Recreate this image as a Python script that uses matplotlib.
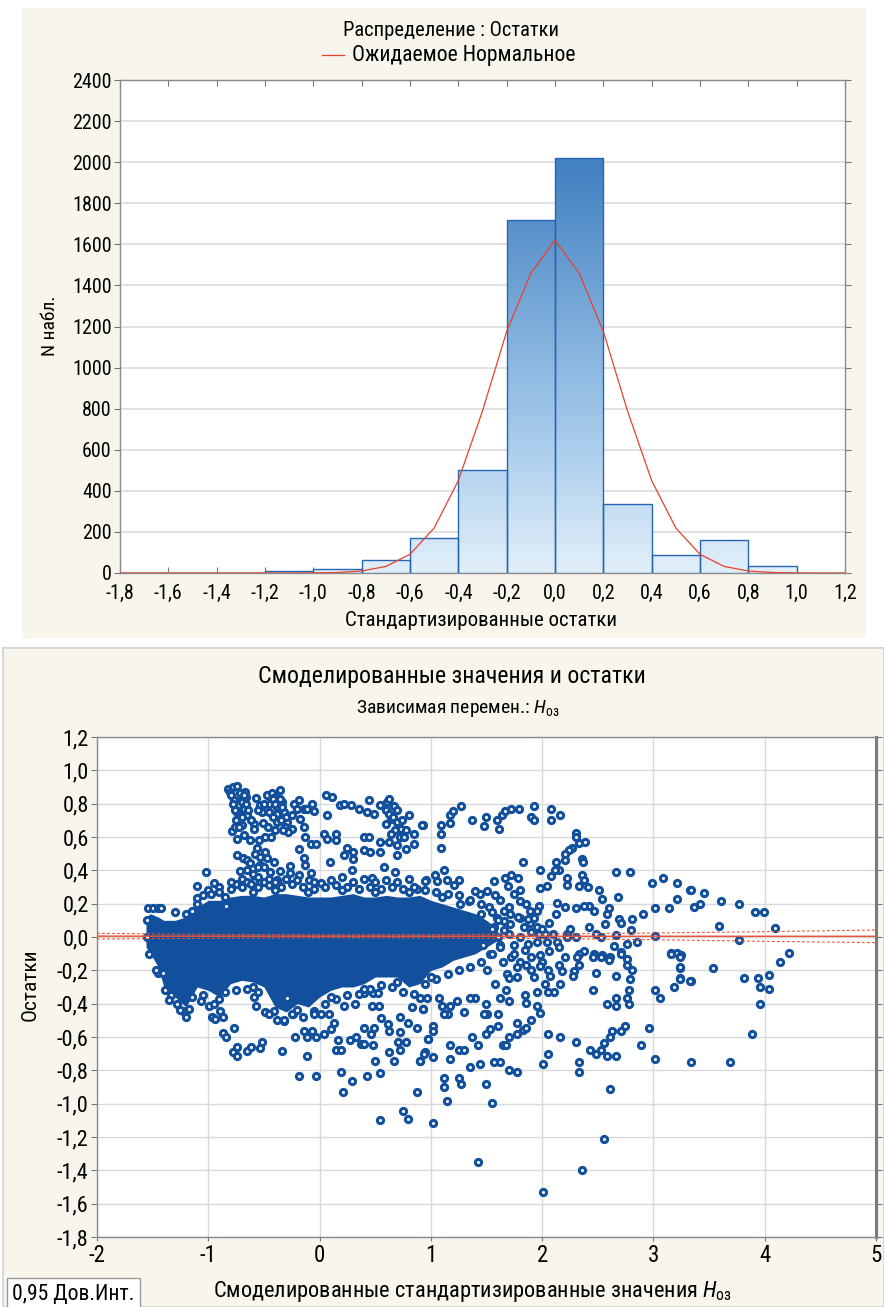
import numpy as np
import matplotlib
matplotlib.use('Agg')
import matplotlib.pyplot as plt
from matplotlib.patches import Rectangle
from matplotlib.colors import LinearSegmentedColormap
from matplotlib.ticker import FuncFormatter, MultipleLocator
from matplotlib import font_manager

avail = {f.name for f in font_manager.fontManager.ttflist}
FAM = [f for f in ['Liberation Sans Narrow', 'Roboto Condensed', 'Liberation Sans', 'DejaVu Sans']
       if f in avail]
plt.rcParams['font.family'] = FAM
plt.rcParams['axes.unicode_minus'] = False
plt.rcParams['mathtext.fontset'] = 'custom'
plt.rcParams['mathtext.rm'] = FAM[0]
plt.rcParams['mathtext.it'] = FAM[0] + ':italic'

# ---------------- histogram data ----------------
bin_left = [-1.8, -1.6, -1.4, -1.2, -1.0, -0.8, -0.6, -0.4, -0.2, 0.0, 0.2, 0.4, 0.6, 0.8]
bin_counts = [1, 1, 2, 8, 21, 62, 168, 500, 1720, 2020, 335, 88, 163, 36]
bin_width = 0.2
norm_x = [-1.8, -1.7, -1.6, -1.5, -1.4, -1.3, -1.2, -1.1, -1.0, -0.9, -0.8, -0.7, -0.6, -0.5,
          -0.4, -0.3, -0.2, -0.1, 0.0, 0.1, 0.2, 0.3, 0.4, 0.5, 0.6, 0.7, 0.8, 0.9, 1.0, 1.1, 1.2]
norm_y = [0, 0, 0, 0, 0, 0, 0, 0.1, 0.5, 2.5, 9.7, 32, 91, 219, 450, 789, 1176, 1460, 1620,
          1460, 1176, 789, 450, 219, 91, 32, 9.7, 2.5, 0.5, 0.1, 0]
hist_xticks = [-1.8, -1.6, -1.4, -1.2, -1.0, -0.8, -0.6, -0.4, -0.2, 0.0, 0.2, 0.4, 0.6, 0.8, 1.0, 1.2]

# ---------------- scatter data (fitted standardized value, residual) ----------------
core_x = [-1.56, -1.52, -1.45, -1.4, -1.3, -1.2, -1.1, -1.0, -0.9, -0.8, -0.7, -0.6, -0.5, -0.4,
          -0.3, -0.2, -0.1, 0.0, 0.1, 0.2, 0.3, 0.4, 0.5, 0.6, 0.7, 0.8, 0.9, 1.0, 1.1, 1.2,
          1.3, 1.4, 1.5, 1.6]
core_top = [0.12, 0.14, 0.12, 0.1, 0.1, 0.12, 0.18, 0.22, 0.22, 0.24, 0.25, 0.25, 0.24, 0.26,
            0.26, 0.25, 0.24, 0.24, 0.24, 0.25, 0.26, 0.24, 0.24, 0.25, 0.24, 0.24, 0.25, 0.22,
            0.2, 0.18, 0.16, 0.14, 0.1, 0.05]
core_bottom = [-0.06, -0.1, -0.18, -0.3, -0.36, -0.42, -0.3, -0.32, -0.36, -0.28, -0.26, -0.27,
               -0.3, -0.42, -0.45, -0.4, -0.42, -0.36, -0.32, -0.3, -0.3, -0.28, -0.24, -0.24,
               -0.24, -0.3, -0.28, -0.2, -0.18, -0.14, -0.12, -0.1, -0.06, -0.02]

upper_left = [(-0.82, 0.889), (-0.774, 0.899), (-0.738, 0.905), (-0.804, 0.873), (-0.714, 0.865),
              (-0.666, 0.869), (-0.765, 0.82), (-0.699, 0.83), (-0.66, 0.84), (-0.72, 0.79),
              (-0.678, 0.77), (-0.714, 0.74), (-0.654, 0.735), (-0.744, 0.75), (-0.569, 0.834),
              (-0.473, 0.85), (-0.428, 0.865), (-0.358, 0.885), (-0.398, 0.84), (-0.337, 0.81),
              (-0.533, 0.79), (-0.458, 0.8), (-0.383, 0.78), (-0.322, 0.75), (-0.292, 0.69),
              (-0.518, 0.75), (-0.458, 0.75), (-0.587, 0.68), (-0.512, 0.687), (-0.593, 0.65),
              (-0.383, 0.69), (-0.307, 0.66), (-0.247, 0.65), (-0.232, 0.8), (-0.187, 0.82),
              (-0.202, 0.77), (-0.247, 0.73), (-0.172, 0.71), (-0.142, 0.77), (-0.11, 0.77),
              (-0.066, 0.8), (-0.051, 0.755), (-0.142, 0.66), (-0.127, 0.6), (-0.79, 0.636),
              (-0.759, 0.66), (-0.699, 0.67), (-0.744, 0.586), (-0.678, 0.61), (-0.623, 0.58),
              (-0.542, 0.58), (-0.488, 0.6), (-0.434, 0.6), (-0.187, 0.53), (-0.081, 0.556),
              (-0.036, 0.556), (-0.8, 0.85), (-0.78, 0.8), (-0.76, 0.76), (-0.7, 0.81),
              (-0.68, 0.85), (-0.75, 0.7), (-0.72, 0.66), (-0.66, 0.8), (-0.64, 0.76),
              (-0.7, 0.72), (-0.62, 0.7), (-0.42, 0.83), (-0.4, 0.8), (-0.36, 0.83),
              (-0.34, 0.78), (-0.38, 0.74), (-0.42, 0.72), (-0.3, 0.72), (-0.35, 0.7),
              (-0.28, 0.63), (-0.33, 0.64), (-0.4, 0.64), (-0.46, 0.66), (-0.5, 0.8), (-0.55, 0.76)]

upper_mid = [(0.057, 0.85), (0.114, 0.84), (0.184, 0.79), (0.22, 0.8), (0.28, 0.79), (0.355, 0.77),
             (0.446, 0.82), (0.43, 0.75), (0.49, 0.74), (0.545, 0.79), (0.61, 0.81), (0.627, 0.826),
             (0.67, 0.786), (0.596, 0.76), (0.641, 0.71), (0.7, 0.69), (0.73, 0.65), (0.774, 0.64),
             (0.8, 0.73), (0.85, 0.62), (0.928, 0.67), (0.069, 0.735), (0.039, 0.62), (0.069, 0.59),
             (0.144, 0.62), (0.144, 0.58), (0.395, 0.6), (0.446, 0.6), (0.545, 0.568), (0.626, 0.57),
             (0.696, 0.55), (0.777, 0.53), (0.846, 0.556), (0.25, 0.536), (0.22, 0.49), (0.304, 0.51),
             (0.304, 0.47), (0.395, 0.52), (0.45, 0.51), (0.545, 0.51), (0.696, 0.49), (0.093, 0.453),
             (0.295, 0.4), (0.575, 0.42), (0.678, 0.39), (0.467, 0.355), (0.958, 0.34), (0.876, 0.29),
             (0.62, 0.74), (0.66, 0.72), (0.6, 0.68), (0.7, 0.76), (0.74, 0.7), (0.68, 0.64),
             (0.72, 0.6), (0.76, 0.6), (0.64, 0.62)]

mid_left = [(-0.744, 0.493), (-0.684, 0.477), (-0.654, 0.463), (-0.563, 0.536), (-0.578, 0.5),
            (-0.533, 0.483), (-0.488, 0.51), (-0.473, 0.477), (-0.413, 0.453), (-0.533, 0.434),
            (-0.623, 0.444), (-0.714, 0.394), (-0.593, 0.339), (-0.497, 0.418), (-0.443, 0.39),
            (-0.358, 0.394), (-0.262, 0.424), (-0.262, 0.384), (-0.187, 0.37), (-0.142, 0.473),
            (-0.127, 0.434), (-0.081, 0.384), (-0.096, 0.345), (0.009, 0.325), (-1.021, 0.39),
            (-1.1, 0.305), (-1.1, 0.236), (-1.15, 0.156), (-0.949, 0.325), (-0.84, 0.186),
            (-0.383, 0.345), (-0.358, 0.305), (-1.542, 0.176), (-1.5, 0.176), (-1.455, 0.176),
            (-1.425, 0.176), (-0.7, 0.35), (-0.65, 0.33), (-0.6, 0.38), (-0.55, 0.36), (-0.5, 0.33),
            (-0.45, 0.35), (-0.4, 0.33), (-0.3, 0.35), (-0.55, 0.42), (-0.65, 0.4), (-0.75, 0.32),
            (-0.8, 0.33), (-0.2, 0.34), (-0.05, 0.33), (0.1, 0.34), (0.2, 0.36), (0.3, 0.33),
            (0.4, 0.35), (0.5, 0.33), (0.6, 0.34), (0.7, 0.33), (0.8, 0.35), (-0.9, 0.3), (-1.0, 0.28)]

upper_right = [(0.919, 0.671), (1.093, 0.671), (1.093, 0.618), (1.093, 0.537), (1.168, 0.731),
               (1.198, 0.754), (1.168, 0.685), (1.273, 0.786), (1.369, 0.701), (1.474, 0.667),
               (1.498, 0.721), (1.592, 0.701), (1.616, 0.651), (1.64, 0.735), (1.67, 0.754),
               (1.721, 0.77), (1.79, 0.77), (1.9, 0.721), (1.931, 0.786), (1.931, 0.701),
               (2.081, 0.77), (2.081, 0.701), (2.159, 0.735), (1.12, 0.404), (1.829, 0.453),
               (1.979, 0.404), (2.3, 0.622), (2.3, 0.602), (2.33, 0.562), (2.381, 0.568),
               (2.27, 0.533), (2.24, 0.523), (2.201, 0.497), (2.201, 0.463), (2.129, 0.453),
               (2.36, 0.469), (2.369, 0.453), (2.15, 0.404), (2.12, 0.404), (2.081, 0.364),
               (2.225, 0.355), (2.225, 0.315), (2.36, 0.374), (2.375, 0.345), (2.33, 0.305),
               (2.411, 0.299), (2.045, 0.305), (1.985, 0.295)]

mid_right = [(2.661, 0.39), (2.787, 0.39), (2.511, 0.285), (2.535, 0.226), (2.685, 0.24),
             (2.991, 0.325), (3.09, 0.355), (3.21, 0.325), (3.216, 0.226), (3.33, 0.285),
             (3.141, 0.176), (3.015, 0.172), (2.91, 0.137), (2.81, 0.107), (2.6, 0.176),
             (2.586, 0.137), (2.691, 0.107), (2.712, 0.087), (2.562, 0.077), (2.465, 0.157),
             (2.42, 0.186), (2.375, 0.186), (2.3, 0.176), (2.204, 0.18), (2.135, 0.206),
             (2.129, 0.137), (2.06, 0.087), (1.97, 0.186), (1.895, 0.087), (1.955, 0.157),
             (2.42, 0.058), (2.48, 0.018), (2.525, -0.002), (2.66, 0.014), (2.796, 0.042),
             (2.856, -0.032), (3.015, 0.008), (2.766, -0.042), (2.706, -0.091), (3.156, -0.097),
             (3.216, -0.097), (3.246, -0.11), (2.646, -0.052), (2.465, -0.1), (2.54, -0.11),
             (2.375, -0.081), (2.33, -0.1), (2.201, -0.12), (2.06, -0.081), (1.985, -0.105),
             (1.97, 0.018), (2.03, 0.018), (2.225, 0.018), (2.225, -0.002), (2.135, -0.032),
             (2.045, -0.032), (1.871, -0.042), (1.67, 0.355), (1.72, 0.37), (1.78, 0.355),
             (1.805, 0.285), (1.69, 0.305), (1.745, 0.256), (1.805, 0.216), (1.859, 0.196),
             (1.895, 0.157), (1.87, 0.107), (1.805, 0.117), (1.715, 0.137), (1.655, 0.157),
             (1.655, 0.097), (1.715, 0.077), (1.595, 0.117), (1.565, 0.058), (1.835, 0.058),
             (1.925, 0.117), (1.955, 0.058), (1.57, 0.335), (1.505, 0.275), (1.444, 0.256),
             (1.4, 0.275), (1.34, 0.216), (1.264, 0.196), (1.25, 0.345), (1.204, 0.315),
             (1.144, 0.345), (1.039, 0.374), (0.949, 0.335), (1.054, 0.335),
             (1.55, 0.05), (1.6, 0.0), (1.62, -0.05), (1.7, 0.02), (1.75, -0.05), (1.72, -0.12),
             (1.8, 0.0), (1.85, -0.08), (1.9, 0.03), (1.95, -0.03), (2.0, 0.05), (2.1, 0.02),
             (2.15, -0.06), (2.25, 0.05), (2.3, 0.0), (1.65, -0.15), (1.8, -0.15), (1.9, -0.2),
             (2.0, -0.15), (1.6, 0.1), (1.7, 0.18), (1.78, 0.12), (1.5, -0.2), (1.58, -0.28),
             (1.68, -0.22), (1.62, 0.22), (1.52, 0.18), (1.45, 0.14), (1.58, 0.25), (1.75, -0.1),
             (1.66, 0.04), (1.53, -0.1), (1.47, -0.05), (1.9, -0.12), (2.05, -0.2)]

far_right = [(3.338, 0.285), (3.362, 0.181), (3.416, 0.201), (3.458, 0.267), (3.611, 0.215),
             (3.766, 0.199), (3.916, 0.149), (3.991, 0.149), (3.587, 0.068), (4.09, 0.052),
             (3.766, -0.018), (3.242, -0.117), (3.242, -0.183), (3.242, -0.246), (3.338, -0.266),
             (3.536, -0.183), (3.817, -0.246), (3.94, -0.246), (3.961, -0.3), (4.042, -0.23),
             (4.042, -0.312), (4.141, -0.147), (4.219, -0.097), (3.961, -0.399), (3.889, -0.58),
             (3.338, -0.747), (3.691, -0.747)]

lower_left = [(-1.452, -0.216), (-1.407, -0.216), (-1.392, -0.315), (-1.331, -0.345), (-1.226, -0.444),
              (-1.196, -0.48), (-1.172, -0.434), (-1.069, -0.381), (-0.991, -0.414), (-0.97, -0.48),
              (-0.94, -0.494), (-0.895, -0.444), (-0.864, -0.48), (-0.87, -0.573), (-0.84, -0.6),
              (-0.768, -0.547), (-0.774, -0.692), (-0.744, -0.662), (-0.744, -0.714), (-0.648, -0.682),
              (-0.617, -0.662), (-0.539, -0.666), (-0.515, -0.627), (-0.587, -0.361), (-0.569, -0.414),
              (-0.488, -0.448), (-0.413, -0.444), (-0.337, -0.682), (-0.292, -0.365), (-0.238, -0.46),
              (-0.217, -0.599), (-0.187, -0.831), (-0.111, -0.714), (-0.111, -0.599), (-0.036, -0.831),
              (-0.036, -0.599), (0.039, -0.579), (-0.322, -0.504), (-0.142, -0.563), (-0.066, -0.563),
              (-0.051, -0.444), (0.009, -0.46), (0.084, -0.464), (0.099, -0.553), (0.129, -0.513),
              (0.144, -0.678), (0.19, -0.678), (0.165, -0.619), (0.19, -0.811), (0.214, -0.93),
              (0.295, -0.861), (0.274, -0.615), (0.325, -0.6), (0.37, -0.643), (0.4, -0.643),
              (0.476, -0.647), (0.319, -0.4), (0.22, -0.414), (0.395, -0.547), (0.461, -0.579),
              (0.491, -0.547), (0.5, -0.746), (0.425, -0.831), (0.545, -0.815), (0.626, -0.563),
              (0.626, -0.692), (0.672, -0.742), (0.702, -0.627), (0.777, -0.627), (0.726, -0.678),
              (0.726, -0.567), (0.726, -0.48), (0.792, -0.513), (0.876, -0.547), (0.898, -0.746),
              (0.949, -0.692), (0.876, -0.93), (0.75, -1.046), (0.798, -1.089), (0.545, -1.099),
              (0.97, -0.613), (0.4, -0.335), (0.476, -0.335), (0.521, -0.335), (0.47, -0.414),
              (0.536, -0.414), (0.551, -0.484), (0.617, -0.523), (0.928, -0.434), (0.898, -0.365),
              (0.828, -0.42)]

lower_right = [(0.904, -0.743), (0.94, -0.699), (1.018, -0.719), (1.018, -0.534), (1.018, -0.564),
               (0.97, -0.613), (1.018, -1.114), (1.12, -0.848), (1.12, -0.898), (1.144, -0.981),
               (1.168, -0.647), (1.168, -0.729), (1.249, -0.679), (1.294, -0.679), (1.249, -0.846),
               (1.27, -0.882), (1.348, -0.779), (1.369, -0.6), (1.42, -0.647), (1.444, -0.763),
               (1.42, -1.349), (1.498, -0.58), (1.498, -0.882), (1.55, -0.997), (1.571, -0.747),
               (1.625, -0.747), (1.649, -0.647), (1.679, -0.647), (1.7, -0.6), (1.7, -0.796),
               (1.775, -0.812), (1.775, -0.584), (1.775, -0.514), (1.829, -0.56), (1.859, -0.548),
               (1.904, -0.5), (1.955, -0.415), (1.979, -0.454), (2.006, -0.763), (2.006, -1.528),
               (2.054, -0.58), (2.054, -0.699), (2.159, -0.6), (2.306, -0.629), (2.33, -0.747),
               (2.33, -0.812), (2.36, -1.395), (2.429, -0.679), (2.48, -0.699), (2.532, -0.679),
               (2.556, -0.633), (2.58, -0.713), (2.61, -0.6), (2.63, -0.564), (2.66, -0.713),
               (2.61, -0.912), (2.556, -1.214), (2.712, -0.564), (2.742, -0.534), (2.886, -0.649),
               (2.961, -0.548), (3.015, -0.729), (2.459, -0.315), (2.48, -0.216), (2.58, -0.399),
               (2.66, -0.232), (2.66, -0.365), (2.66, -0.415), (2.76, -0.365), (2.781, -0.399),
               (2.781, -0.315), (2.79, -0.25), (2.811, -0.2), (2.76, -0.166), (3.06, -0.365),
               (3.015, -0.315), (3.186, -0.3), (3.24, -0.25), (3.24, -0.182), (3.33, -0.266),
               (2.315, -0.117), (2.459, -0.117), (2.525, -0.117), (2.61, -0.117), (2.6, -0.136),
               (2.705, -0.103), (2.766, -0.131), (3.162, -0.103), (2.33, -0.166), (2.285, -0.206),
               (2.279, -0.236), (2.15, -0.166), (2.18, -0.206), (2.075, -0.236), (2.03, -0.282),
               (2.054, -0.331), (2.105, -0.329), (2.159, -0.282), (1.955, -0.329), (1.979, -0.176),
               (1.925, -0.242), (1.859, -0.166), (1.85, -0.345), (1.859, -0.395), (1.775, -0.242),
               (1.775, -0.182), (1.7, -0.246), (1.679, -0.315), (1.7, -0.385), (1.625, -0.365),
               (1.601, -0.464), (1.601, -0.534), (1.504, -0.464), (1.474, -0.464), (1.498, -0.401),
               (1.399, -0.365), (1.354, -0.365), (1.294, -0.448), (1.15, -0.464), (1.114, -0.464),
               (1.099, -0.415), (1.168, -0.415), (1.234, -0.385), (1.069, -0.365), (0.928, -0.434),
               (0.964, -0.365), (1.535, -0.554)]

core_edge = [(-1.2, 0.14), (-1.1, 0.2), (-0.98, 0.26), (-0.9, 0.27), (-0.8, 0.29), (-0.7, 0.3),
             (-0.62, 0.32), (-0.55, 0.3), (-0.45, 0.31), (-0.35, 0.3), (-0.25, 0.32), (-0.15, 0.3),
             (-0.05, 0.29), (0.05, 0.3), (0.15, 0.31), (0.25, 0.3), (0.35, 0.29), (0.45, 0.3),
             (0.55, 0.29), (0.65, 0.3), (0.75, 0.29), (0.85, 0.3), (0.95, 0.28), (1.05, 0.27),
             (1.15, 0.26), (1.25, 0.25), (1.35, 0.22), (1.45, 0.2), (1.55, 0.15),
             (-1.35, -0.38), (-1.25, -0.44), (-1.15, -0.36), (-1.05, -0.35), (-0.95, -0.4),
             (-0.85, -0.33), (-0.75, -0.32), (-0.65, -0.31), (-0.55, -0.33), (-0.45, -0.46),
             (-0.38, -0.5), (-0.32, -0.5), (-0.25, -0.46), (-0.15, -0.48), (-0.05, -0.46),
             (0.05, -0.4), (0.15, -0.37), (0.25, -0.35), (0.35, -0.34), (0.45, -0.31),
             (0.55, -0.29), (0.65, -0.3), (0.75, -0.33), (0.85, -0.34), (0.95, -0.28),
             (1.05, -0.25), (1.15, -0.22), (1.25, -0.2), (1.35, -0.18), (1.45, -0.15),
             (1.55, -0.1), (1.62, -0.06), (-1.55, 0.1), (-1.55, 0.0), (-1.53, -0.1), (-1.47, -0.2),
             (-1.3, 0.15), (-1.05, 0.25), (-0.85, 0.24), (-0.6, 0.27), (-0.4, 0.28), (-0.1, 0.27),
             (0.2, 0.28), (0.5, 0.27), (0.8, 0.27), (1.1, 0.24), (-1.28, -0.4), (-0.9, -0.37),
             (-0.6, -0.3), (-0.2, -0.44), (0.1, -0.36), (0.4, -0.31), (0.7, -0.27), (1.0, -0.24)]

fit_x = [-2.0, 5.0]
fit_y = [0.005, 0.004]
ci_x = [-2.0, -1.0, 0.0, 1.0, 2.0, 3.0, 4.0, 5.0]
ci_upper = [0.022, 0.016, 0.013, 0.014, 0.018, 0.024, 0.032, 0.042]
ci_lower = [-0.012, -0.008, -0.005, -0.006, -0.01, -0.016, -0.026, -0.034]

# ---------------- figure ----------------
W, H = 884, 1307
fig = plt.figure(figsize=(W / 100, H / 100), dpi=100, facecolor='white')
renderer = fig.canvas.get_renderer()


def fx(px):
    return px / W


def fy(py):
    return 1 - py / H


def fit_text(t, target_px, horizontal=True, max_size=None):
    """Scale the font so the text spans about target_px pixels."""
    bb = t.get_window_extent(renderer=renderer)
    cur = bb.width if horizontal else bb.height
    size = t.get_fontsize() * target_px / cur
    if max_size is not None:
        size = min(size, max_size)
    t.set_fontsize(size)


BG = '#f8f6ec'
fig.patches.append(Rectangle((fx(22), fy(638)), fx(866) - fx(22), fy(8) - fy(638),
                             transform=fig.transFigure, facecolor=BG, edgecolor='none', zorder=-10))
fig.patches.append(Rectangle((fx(3), 0), 1 - fx(3), fy(648),
                             transform=fig.transFigure, facecolor=BG, edgecolor='#d8d8d8', lw=1.5,
                             zorder=-10))

dec = FuncFormatter(lambda v, p: ('%.1f' % v).replace('-0.0', '0.0').replace('.', ','))

# ---- top: histogram ----
ax1 = fig.add_axes([fx(120), fy(573), fx(845) - fx(120), fy(80) - fy(573)])
ax1.set_facecolor('white')
bars = ax1.bar(bin_left, bin_counts, width=bin_width, align='edge', facecolor='none',
               edgecolor='#2766b0', linewidth=1.0, zorder=4)
grad = np.linspace(0, 1, 256).reshape(-1, 1)
cmap = LinearSegmentedColormap.from_list('g', [(0, '#e2eff9'), (0.3, '#a9cdec'), (1.0, '#3a7bbf')])
for b in bars:
    x0 = b.get_x()
    im = ax1.imshow(grad, extent=(x0, x0 + b.get_width(), 0, 2100), origin='lower',
                    cmap=cmap, aspect='auto', zorder=3, interpolation='bilinear')
    im.set_clip_path(b)
ax1.plot(norm_x, norm_y, color='#e8412c', lw=0.9, zorder=5, label='Ожидаемое Нормальное')
ax1.set_xlim(-1.8, 1.2)
ax1.set_ylim(0, 2400)
ax1.set_xticks(hist_xticks)
ax1.xaxis.set_major_formatter(dec)
ax1.yaxis.set_major_locator(MultipleLocator(200))
ax1.yaxis.set_major_formatter(FuncFormatter(lambda v, p: '%d' % v))
ax1.grid(axis='y', color='#d9dcdd', lw=1.2, zorder=0)
ax1.set_axisbelow(True)
for s in ax1.spines.values():
    s.set_color('#8a8a8a')
    s.set_linewidth(1.0)
ax1.tick_params(axis='y', which='both', direction='out', left=True, right=True, length=4,
                color='#777777', labelsize=14.5, pad=2)
ax1.tick_params(axis='x', which='both', direction='in', top=True, bottom=True, length=4,
                color='#777777', labelsize=14.5, pad=8)

t = fig.text(fx(50), fy(326), 'N набл.', rotation=90, ha='center', va='center', fontsize=12)
fit_text(t, 60, horizontal=False)
t = fig.text(fx(481), fy(620), 'Стандартизированные остатки', ha='center', va='center', fontsize=12)
fit_text(t, 272)
t = fig.text(fx(451), fy(30), 'Распределение : Остатки', ha='center', va='center', fontsize=12)
fit_text(t, 215)
leg = ax1.legend(loc='center', bbox_to_anchor=(fx(449), fy(55)), bbox_transform=fig.transFigure,
                 frameon=False, fontsize=12, handlelength=1.3, handletextpad=0.5)
lt = leg.get_texts()[0]
fit_text(lt, 223)

# ---- bottom: scatter ----
ax2 = fig.add_axes([fx(97), fy(1237), fx(876) - fx(97), fy(737) - fy(1237)])
ax2.set_facecolor('white')
ax2.fill_between(core_x, core_bottom, core_top, color='#12509e', lw=0, zorder=3)
groups = [upper_left, upper_mid, mid_left, upper_right, mid_right, far_right,
          lower_left, lower_right, core_edge]
for g in groups:
    arr = np.array(g)
    ax2.scatter(arr[:, 0], arr[:, 1], s=20, facecolors='white', edgecolors='#12509e',
                linewidths=2.2, zorder=4)
ax2.plot(fit_x, fit_y, color='#e8553a', lw=1.1, zorder=6)
ax2.plot(ci_x, ci_upper, color='#e8553a', lw=0.8, ls=(0, (2.5, 2)), zorder=6)
ax2.plot(ci_x, ci_lower, color='#e8553a', lw=0.8, ls=(0, (2.5, 2)), zorder=6)
ax2.set_xlim(-2, 5)
ax2.set_ylim(-1.8, 1.2)
ax2.xaxis.set_major_locator(MultipleLocator(1))
ax2.yaxis.set_major_locator(MultipleLocator(0.2))
ax2.xaxis.set_major_formatter(FuncFormatter(lambda v, p: '%d' % round(v)))
ax2.yaxis.set_major_formatter(dec)
ax2.grid(True, color='#d7dadd', lw=1.0, zorder=0)
ax2.set_axisbelow(True)
for s in ax2.spines.values():
    s.set_color('#8a8a8a')
    s.set_linewidth(1.0)
ax2.spines['right'].set_linewidth(2.2)
ax2.spines['right'].set_color('#7a7a7a')
ax2.tick_params(axis='y', direction='out', left=True, right=True, length=4, color='#777777',
                labelsize=16, pad=2)
ax2.tick_params(axis='x', direction='out', bottom=True, top=False, length=3, color='#777777',
                labelsize=16.5, pad=2)

t = fig.text(fx(30), fy(985), 'Остатки', rotation=90, ha='center', va='center', fontsize=13)
fit_text(t, 72, horizontal=False)
t = fig.text(fx(472), fy(1291), 'Смоделированные стандартизированные значения $\\mathit{H}_{\\mathrm{оз}}$',
             ha='center', va='center', fontsize=15)
fit_text(t, 521)
t = fig.text(fx(452), fy(676), 'Смоделированные значения и остатки', ha='center', va='center',
             fontsize=15)
fit_text(t, 388)
t = fig.text(fx(458), fy(708), 'Зависимая перемен.: $\\mathit{H}_{\\mathrm{оз}}$', ha='center',
             va='center', fontsize=12)
fit_text(t, 250, max_size=14)
t = fig.text(fx(12), fy(1294), '0,95 Дов.Инт.', ha='left', va='center', fontsize=12,
             bbox=dict(boxstyle='square,pad=0.25', facecolor='white', edgecolor='#9a9a9a', lw=1))
fit_text(t, 122)

fig.savefig('out.png', dpi=100, facecolor='white')
